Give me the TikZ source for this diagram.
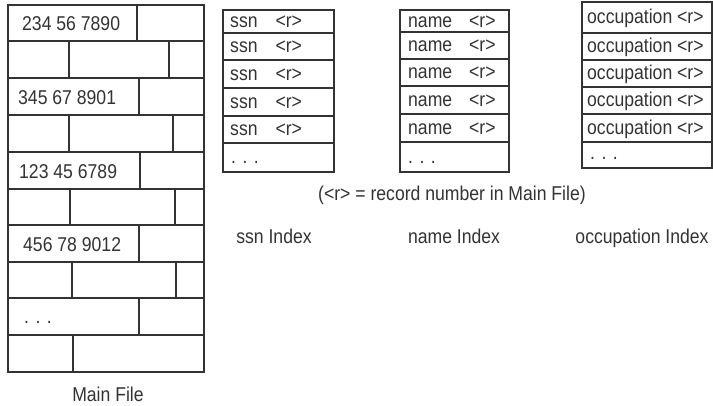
\documentclass[tikz,border=0pt]{standalone}
\usepackage{fontspec}
\setmainfont[FakeStretch=0.88]{Liberation Sans}
\definecolor{ink}{HTML}{333333}
\newcommand{\gapdots}{.\kern6.5pt.\kern6.5pt.}
\tikzset{
  box/.style={draw=ink, line width=1.1pt},
  txt/.style={anchor=base west, inner sep=0pt, text=ink, font=\fontsize{20}{22}\selectfont},
  caption/.style={anchor=base, inner sep=0pt, text=ink, font=\fontsize{20}{22}\selectfont},
}
\begin{document}
\begin{tikzpicture}[x=1pt, y=-1pt]
\useasboundingbox (0,0) rectangle (713,406);

% ---- Main File: ten rows of variable-length records ----
\draw[box] (8,5) rectangle (204,372);
\foreach \y in {41,78,115,152,189,225,262,298,335}
  \draw[box] (8,\y) -- (204,\y);
\foreach \y/\a/\b in {5/41/137,41/78/{69,169},78/115/139,115/152/{69,173},
                      152/189/140,189/225/{70,175},225/262/139,262/298/{72,176},
                      298/335/139,335/372/73}
  \foreach \x in \b
    \draw[box] (\x,\y) -- (\x,\a);

\node[txt] (r1) at (22,31) {234 56 7890};
\node[txt] (r3) at (18,104.5) {345 67 8901};
\node[txt] (r5) at (19,178.5) {123 45 6789};
\node[txt] (r7) at (23,251.5) {456 78 9012};
\node[txt] (r9) at (24,324) {\gapdots};
\node[caption] (mainlbl) at (108,401.5) {Main File};

% ---- ssn Index ----
\draw[box] (223,10) rectangle (334,172);
\foreach \y in {33,60,88,116,143}
  \draw[box] (223,\y) -- (334,\y);
\foreach \y [count=\i] in {28,53,80.5,108.5,136}
  \node[txt] (ssn\i) at (230,\y) {ssn\hspace{18pt}<r>};
\node[txt] (ssndots) at (231,163.5) {\gapdots};

% ---- name Index ----
\draw[box] (400,10) rectangle (509,172);
\foreach \y in {32,59,86,114,142}
  \draw[box] (400,\y) -- (509,\y);
\foreach \y [count=\i] in {27.5,52,79,106.5,134.5}
  \node[txt] (name\i) at (408,\y) {name\hspace{17pt}<r>};
\node[txt] (namedots) at (408,163.5) {\gapdots};

% ---- occupation Index ----
\draw[box] (582,2) rectangle (712,168);
\foreach \y in {33,60,87,114,142}
  \draw[box] (582,\y) -- (712,\y);
\foreach \y [count=\i] in {24,53,80,107,134.5}
  \node[txt] (occ\i) at (587,\y) {occupation <r>};
\node[txt] (occdots) at (590,160) {\gapdots};

% ---- captions ----
\node[caption] (note) at (452,201) {(<r> = record number in Main File)};
\node[caption] (ssnlbl) at (274,244) {ssn Index};
\node[caption] (namelbl) at (454,244) {name Index};
\node[caption] (occlbl) at (642,244) {occupation Index};
\end{tikzpicture}
\end{document}
